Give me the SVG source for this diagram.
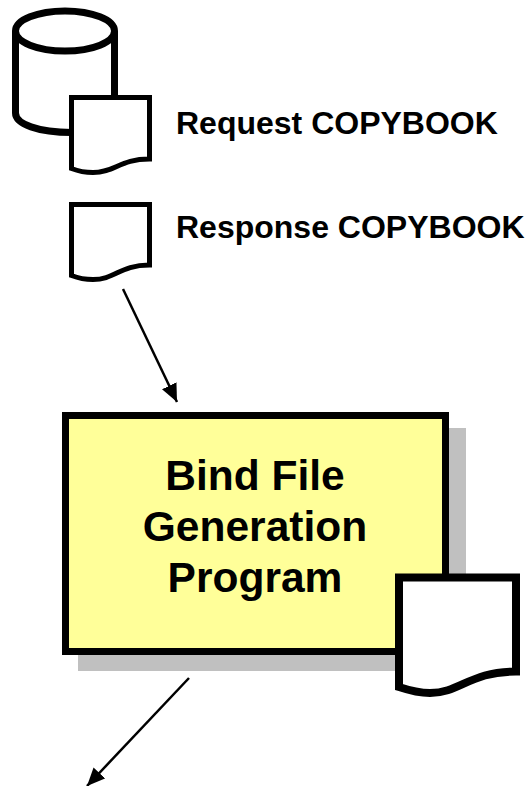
<svg xmlns="http://www.w3.org/2000/svg" width="528" height="786" viewBox="0 0 528 786">
<style>
.lbl{font-family:"Liberation Sans",Arial,sans-serif;font-weight:bold;font-size:32px;fill:#000}
.ttl{font-family:"Liberation Sans",Arial,sans-serif;font-weight:bold;font-size:42.500px;fill:#000;text-anchor:middle}
.doc{fill:#fff;stroke:#000;stroke-width:5;stroke-linejoin:miter}
.conn{stroke:#000;stroke-width:2.5;fill:none;marker-end:url(#ah)}
</style>
<defs>
<marker id="ah" markerUnits="userSpaceOnUse" markerWidth="20" markerHeight="18" refX="18" refY="8" orient="auto">
<path d="M0 0L18 8L0 16Z" fill="#000"/>
</marker>
</defs>
<rect width="528" height="786" fill="#fff"/>
<g id="database">
<path d="M15.500 31V113C15.500 124 38 132.500 72 132.500H114.500V31" fill="#fff" stroke="#000" stroke-width="7"/>
<ellipse cx="65" cy="31" rx="49.500" ry="20" fill="#fff" stroke="#000" stroke-width="7"/>
</g>
<g id="request-doc">
<path class="doc" d="M71.500 97.500H149.500V159C120 159 115 172.500 93 172.500C84 172.500 78 171 71.500 168.500Z"/>
<text class="lbl" x="176" y="134">Request COPYBOOK</text>
</g>
<g id="response-doc">
<path class="doc" d="M71.500 204.500H149.500V265C120 265 115 279.500 93 279.500C84 279.500 78 278 71.500 275.500Z"/>
<text class="lbl" x="176" y="238">Response COPYBOOK</text>
</g>
<g id="bind-file-program">
<rect x="78" y="428" width="388" height="243" fill="#c0c0c0"/>
<rect x="65.500" y="415.500" width="380" height="236" fill="#ffff99" stroke="#000" stroke-width="7"/>
<text class="ttl" x="255" y="490">Bind File</text>
<text class="ttl" x="255" y="541">Generation</text>
<text class="ttl" x="255" y="592">Program</text>
</g>
<g id="output-doc">
<path d="M399 577.500H516V671.500C470 671.500 460 693 430 693C418 693 408 690 399 687Z" fill="#fff" stroke="#000" stroke-width="8"/>
</g>
<g id="connectors">
<line class="conn" x1="123" y1="289" x2="177" y2="402"/>
<line class="conn" x1="189" y1="678" x2="87" y2="786"/>
</g>
</svg>
